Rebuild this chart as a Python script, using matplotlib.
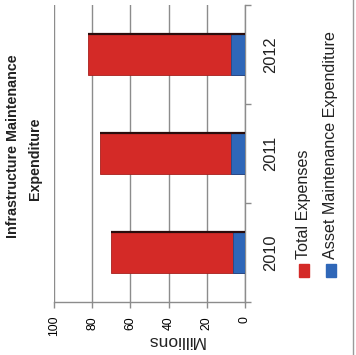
import matplotlib
matplotlib.use("Agg")
import matplotlib.pyplot as plt
from matplotlib.lines import Line2D
from matplotlib.patches import Rectangle
from matplotlib.transforms import blended_transform_factory


years = ["2010", "2011", "2012"]
total_expenses = [70, 76, 82]
asset_maintenance = [6.5, 7.5, 7.5]
value_ticks = [0, 20, 40, 60, 80, 100]

RED = "#d42a27"
BLUE = "#2f67b8"
GRID = "#8c8c8c"
W, H = 356, 355


def fx(px: float) -> float:
    return px / W


def fy(py: float) -> float:
    return 1 - py / H


plt.rcParams["font.family"] = ["Liberation Sans", "DejaVu Sans"]

fig = plt.figure(figsize=(W / 100, H / 100), dpi=100)
ax = fig.add_axes([fx(54), fy(302), fx(245) - fx(54), fy(5) - fy(302)])

pos = list(range(len(years)))
bar_h = 0.42
ax.barh(pos, total_expenses, height=bar_h, color=RED, edgecolor="#a81f1c", lw=0.6, zorder=3)
ax.barh(pos, asset_maintenance, height=bar_h, color=BLUE, edgecolor="#1f4a8a", lw=0.6, zorder=4)
# dark shading along the upper edge of each bar
ax.hlines([p + bar_h / 2 for p in pos], 0, total_expenses, color="#2a0d0d", lw=1.6, zorder=5)

ax.set_xlim(100, 0)
ax.set_ylim(-0.5, len(years) - 0.5)
ax.set_xticks(value_ticks)
ax.set_xticklabels([str(v) for v in value_ticks], rotation=90, fontsize=8.7)
ax.tick_params(axis="x", length=4, width=1, color=GRID, pad=6)
ax.xaxis.grid(True, color=GRID, lw=1)
ax.set_axisbelow(True)

ax.yaxis.tick_right()
ax.set_yticks([p - 0.5 for p in pos] + [len(years) - 0.5])
ax.set_yticklabels([])
ax.tick_params(axis="y", length=4, width=1, color=GRID)

for side in ("top", "left"):
    ax.spines[side].set_visible(False)
for side in ("bottom", "right"):
    ax.spines[side].set_color(GRID)
    ax.spines[side].set_linewidth(1)

trans = blended_transform_factory(ax.transAxes, ax.transData)
for p, label in zip(pos, years):
    ax.text((271 - 54) / 191, p, label, transform=trans, rotation=90,
            ha="center", va="center", fontsize=11.8, color="#222222")

fig.text(fx(176), fy(341), "Millions", rotation=180, ha="center", va="center",
         fontsize=12.5, color="#222222")

# title, two lines
fig.text(fx(13), fy(146), "Infrastructure Maintenance", rotation=90, ha="center",
         va="center", fontsize=10.3, fontweight="bold", color="#222222")
fig.text(fx(35), fy(159), "Expenditure", rotation=90, ha="center",
         va="center", fontsize=10.3, fontweight="bold", color="#222222")

# legend
legend_items = [("Total Expenses", RED, 303.5), ("Asset Maintenance Expenditure", BLUE, 331)]
for label, color, cx in legend_items:
    fig.add_artist(Rectangle((fx(cx - 5), fy(277)), fx(10), fy(264) - fy(277),
                             transform=fig.transFigure, color=color))
    fig.text(fx(cx), fy(259), label, rotation=90, rotation_mode="anchor",
             ha="left", va="center", fontsize=11.6, color="#222222")

fig.add_artist(Line2D([fx(353), fx(353)], [0, 1], transform=fig.transFigure,
                      color="#9a9a9a", lw=1))

fig.savefig("out.png", dpi=100)
